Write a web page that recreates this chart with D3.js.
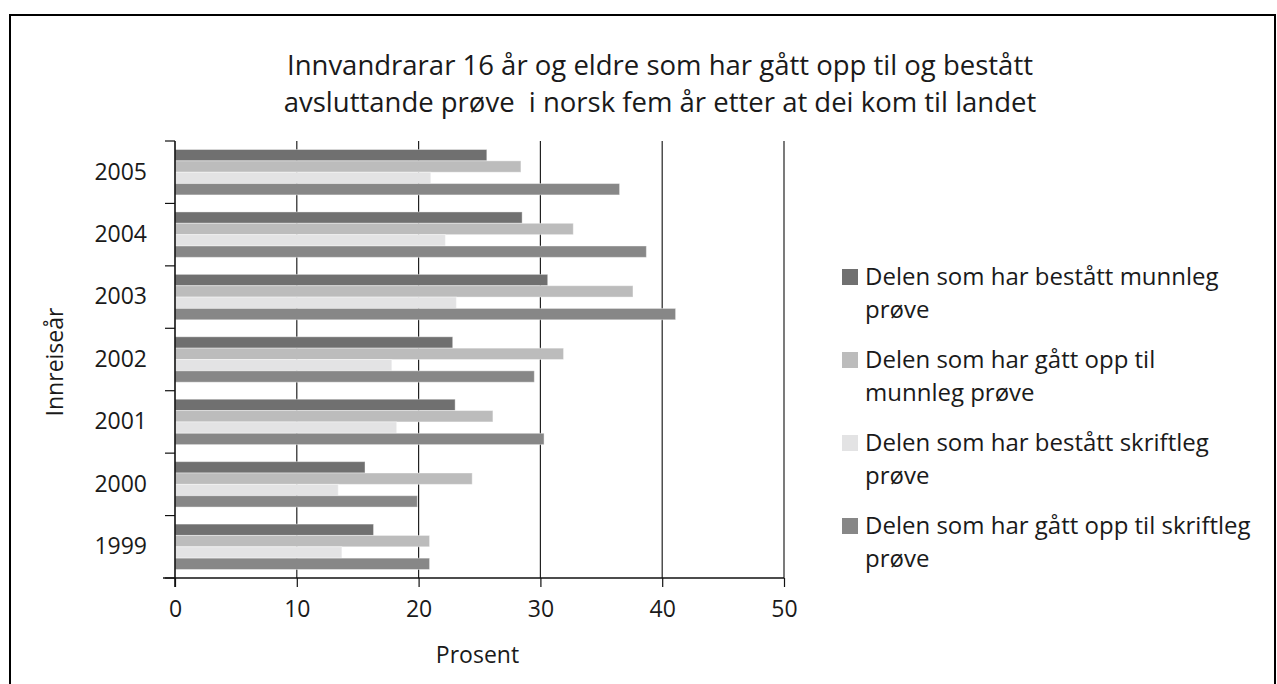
<!DOCTYPE html>
<html><head><meta charset="utf-8">
<script src="https://cdn.jsdelivr.net/npm/d3@7"></script>
<style>
body{margin:0;background:#fff;}
svg text{font-family:"Open Sans",sans-serif;fill:#1a1a1a;}
</style></head>
<body><svg id="c" width="1277" height="684"></svg>
<script>
const titleLines = ["Innvandrarar 16 år og eldre som har gått opp til og bestått", "avsluttande prøve  i norsk fem år etter at dei kom til landet"];
const years = ["2005","2004","2003","2002","2001","2000","1999"];
const seriesNames = ["Delen som har bestått munnleg prøve","Delen som har gått opp til munnleg prøve","Delen som har bestått skriftleg prøve","Delen som har gått opp til skriftleg prøve"];
const legendLines = [["Delen som har bestått munnleg","prøve"],["Delen som har gått opp til","munnleg prøve"],["Delen som har bestått skriftleg","prøve"],["Delen som har gått opp til skriftleg","prøve"]];
const bestattMunnleg = [25.6, 28.5, 30.6, 22.8, 23.0, 15.6, 16.3];
const oppMunnleg     = [28.4, 32.7, 37.6, 31.9, 26.1, 24.4, 20.9];
const bestattSkrift  = [21.0, 22.2, 23.1, 17.8, 18.2, 13.4, 13.7];
const oppSkrift      = [36.5, 38.7, 41.1, 29.5, 30.3, 19.9, 20.9];
const xTicks = [0,10,20,30,40,50];
const colors = ["#707070","#bcbcbc","#e3e3e4","#878787"];
const xLabel = "Prosent", yLabel = "Innreiseår";

const allSeries = [bestattMunnleg, oppMunnleg, bestattSkrift, oppSkrift];
const svg = d3.select("#c");
svg.append("rect").attr("x",10).attr("y",15).attr("width",1265).attr("height",690)
  .attr("fill","none").attr("stroke","#000").attr("stroke-width",2);

const x = d3.scaleLinear().domain([0,50]).range([175,784]);
const y = d3.scaleBand().domain(years).range([141,578]).padding(0);
const y1 = d3.scaleBand().domain(d3.range(4)).range([0,y.bandwidth()]).paddingInner(0).paddingOuter(0.75);

// title
svg.append("g").selectAll("text").data(titleLines).join("text")
  .attr("x",660).attr("y",(d,i)=>75+i*37).attr("text-anchor","middle")
  .style("font-size","27.5px").style("white-space","pre").attr("xml:space","preserve").text(d=>d);

// gridlines
svg.append("g").selectAll("line").data(xTicks.slice(1)).join("line")
  .attr("x1",d=>x(d)).attr("x2",d=>x(d)).attr("y1",141).attr("y2",578)
  .attr("stroke","#222").attr("stroke-width",1.2);

// bars
const rows = years.map((yr,i)=>({yr, vals: allSeries.map(s=>s[i])}));
svg.append("g").selectAll("g").data(rows).join("g")
  .attr("transform",d=>`translate(0,${y(d.yr)})`)
  .selectAll("rect").data(d=>d.vals.map((v,k)=>({v,k}))).join("rect")
  .attr("x",x(0)).attr("y",d=>y1(d.k)).attr("width",d=>x(d.v)-x(0)).attr("height",y1.bandwidth())
  .attr("fill",d=>colors[d.k]).attr("stroke","#ffffff").attr("stroke-opacity",0.4).attr("stroke-width",1);

// x axis
const xa = svg.append("g").attr("transform","translate(0,578)")
  .call(d3.axisBottom(x).tickValues(xTicks).tickSize(9).tickSizeOuter(0).tickPadding(14));
xa.select(".domain").attr("d",`M163,0H784`).attr("stroke","#111").attr("stroke-width",1.6);
xa.selectAll(".tick line").attr("stroke","#111").attr("stroke-width",1.2);
xa.selectAll(".tick text").style("font-size","23px").attr("fill","#1a1a1a").style("font-family","'Open Sans',sans-serif");

// y axis
const ya = svg.append("g").attr("transform",`translate(${x(0)},0)`)
  .call(d3.axisLeft(y).tickSize(0).tickPadding(28));
ya.select(".domain").remove();
ya.selectAll(".tick text").style("font-size","23px").attr("fill","#1a1a1a").style("font-family","'Open Sans',sans-serif");
const bounds = years.map(d=>y(d)).concat([y.range()[1]]);
ya.append("line").attr("x1",0).attr("x2",0).attr("y1",141).attr("y2",587).attr("stroke","#111").attr("stroke-width",1.6);
ya.selectAll(".bt").data(bounds).join("line").attr("class","bt")
  .attr("x1",-10).attr("x2",0).attr("y1",d=>d).attr("y2",d=>d).attr("stroke","#111").attr("stroke-width",1.2);

// axis titles
svg.append("text").attr("x",x(25)-2).attr("y",663).attr("text-anchor","middle").style("font-size","23px").text(xLabel);
svg.append("text").attr("transform","translate(63,362) rotate(-90)").attr("text-anchor","middle").style("font-size","23px").text(yLabel);

// legend
const lg = svg.append("g").selectAll("g").data(legendLines).join("g")
  .attr("transform",(d,i)=>`translate(842,${285+i*83})`);
lg.append("rect").attr("x",0).attr("y",-16).attr("width",16).attr("height",16).attr("fill",(d,i)=>colors[i]);
lg.selectAll("text").data(d=>d).join("text").attr("x",23).attr("y",(d,j)=>j*33)
  .style("font-size","24px").text(d=>d);
</script></body></html>
